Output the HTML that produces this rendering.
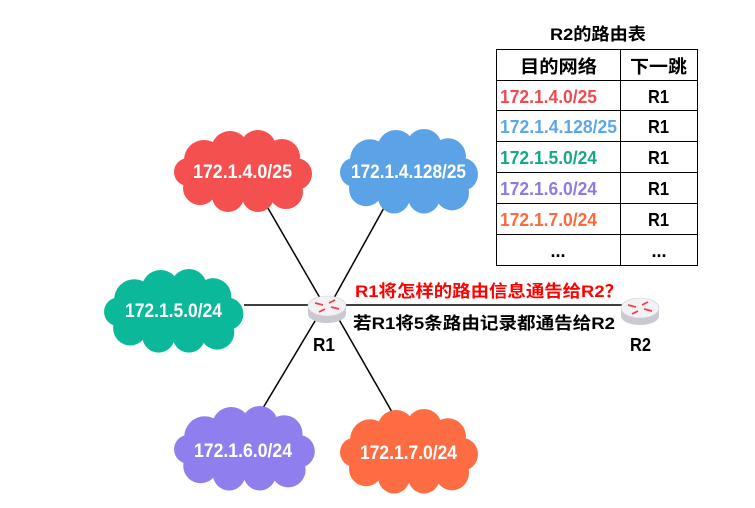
<!DOCTYPE html>
<html><head><meta charset="utf-8"><style>
body{margin:0;background:#fff;width:755px;height:503px;overflow:hidden;font-family:"Liberation Sans","Noto Sans CJK SC",sans-serif}
</style></head><body>
<svg width="755" height="503" viewBox="0 0 755 503" xmlns="http://www.w3.org/2000/svg" font-family="Liberation Sans, Noto Sans CJK SC, sans-serif">
<defs>
<g id="cl">
<circle cx="32" cy="30" r="20"/><circle cx="58" cy="20" r="19"/><circle cx="86" cy="18" r="18"/><circle cx="110" cy="27" r="18"/><circle cx="124" cy="44" r="16"/><circle cx="114" cy="62" r="17"/><circle cx="86" cy="66" r="16"/><circle cx="56" cy="66" r="16"/><circle cx="28" cy="58" r="17"/><circle cx="16" cy="42" r="14"/><ellipse cx="70" cy="42" rx="56" ry="28"/>
</g>
<g id="rt">
<ellipse cx="0" cy="6" rx="19" ry="9" fill="#c9c9cf"/>
<rect x="-19" y="-2" width="38" height="8" fill="#c9c9cf"/>
<ellipse cx="0" cy="-2" rx="19" ry="10" fill="#f2f2f4" stroke="#d0d0d6" stroke-width="0.6"/>
<g stroke="#f04050" stroke-width="1.8"><line x1="-12" y1="-5" x2="-4" y2="-3"/><line x1="12" y1="1" x2="4" y2="-1"/><line x1="-2" y1="1" x2="-8" y2="4"/><line x1="2" y1="-5" x2="8" y2="-8"/></g>
</g>
</defs>
<g stroke="#000" stroke-width="1.5">
<line x1="265" y1="203" x2="320" y2="298"/>
<line x1="385" y1="206" x2="334" y2="298"/>
<line x1="244" y1="305" x2="640" y2="305"/>
<line x1="263" y1="408" x2="318" y2="316"/>
<line x1="392" y1="412" x2="337" y2="316"/>
</g>
<use href="#cl" fill="#f45050" transform="translate(172,130)"/>
<use href="#cl" fill="#5ba3e6" transform="translate(338,129) scale(1.0,1.03)"/>
<use href="#cl" fill="#0bb99a" transform="translate(102,269) scale(1.01,1.02)"/>
<use href="#cl" fill="#8f7fee" transform="translate(172,406) scale(1.02,1.03)"/>
<use href="#cl" fill="#fe6c44" transform="translate(338,409) scale(1.0,1.03)"/>
<g fill="#fff" font-weight="bold" font-size="19" lengthAdjust="spacingAndGlyphs">
<text x="193" y="178" textLength="99" lengthAdjust="spacingAndGlyphs">172.1.4.0/25</text>
<text x="351" y="178" textLength="115" lengthAdjust="spacingAndGlyphs">172.1.4.128/25</text>
<text x="125" y="317" textLength="97" lengthAdjust="spacingAndGlyphs">172.1.5.0/24</text>
<text x="194" y="457" textLength="98" lengthAdjust="spacingAndGlyphs">172.1.6.0/24</text>
<text x="360" y="459" textLength="97" lengthAdjust="spacingAndGlyphs">172.1.7.0/24</text>
</g>
<use href="#rt" transform="translate(327,308)"/>
<use href="#rt" transform="translate(640,310)"/>
<g font-weight="bold" font-size="18">
<text x="313" y="351" textLength="22" lengthAdjust="spacingAndGlyphs">R1</text>
<text x="630" y="351" textLength="21" lengthAdjust="spacingAndGlyphs">R2</text>
<text x="355" y="297" fill="#f00" font-size="17" textLength="268" lengthAdjust="spacingAndGlyphs">R1将怎样的路由信息通告给R2？</text>
<text x="353" y="329" fill="#000" font-size="17" textLength="262" lengthAdjust="spacingAndGlyphs">若R1将5条路由记录都通告给R2</text>
<text x="550" y="40" font-size="17" textLength="96" lengthAdjust="spacingAndGlyphs">R2的路由表</text>
</g>
<g stroke="#000" stroke-width="1" fill="none">
<rect x="496.5" y="49.5" width="201" height="216"/>
<line x1="620.5" y1="49" x2="620.5" y2="266"/>
<line x1="496" y1="80.5" x2="698" y2="80.5"/>
<line x1="496" y1="110.5" x2="698" y2="110.5"/>
<line x1="496" y1="141.5" x2="698" y2="141.5"/>
<line x1="496" y1="172.5" x2="698" y2="172.5"/>
<line x1="496" y1="203.5" x2="698" y2="203.5"/>
<line x1="496" y1="234.5" x2="698" y2="234.5"/>
</g>
<g font-weight="bold" font-size="18">
<text x="520" y="73" textLength="77" lengthAdjust="spacingAndGlyphs">目的网络</text>
<text x="630" y="73" textLength="57" lengthAdjust="spacingAndGlyphs">下一跳</text>
<text x="500" y="103" fill="#f04a50" textLength="97" lengthAdjust="spacingAndGlyphs">172.1.4.0/25</text>
<text x="500" y="133" fill="#5aa7ec" textLength="117" lengthAdjust="spacingAndGlyphs">172.1.4.128/25</text>
<text x="500" y="164" fill="#14a886" textLength="97" lengthAdjust="spacingAndGlyphs">172.1.5.0/24</text>
<text x="500" y="195" fill="#8d7ae8" textLength="97" lengthAdjust="spacingAndGlyphs">172.1.6.0/24</text>
<text x="500" y="226" fill="#fb6a3c" textLength="97" lengthAdjust="spacingAndGlyphs">172.1.7.0/24</text>
<text x="648" y="103" textLength="21" lengthAdjust="spacingAndGlyphs">R1</text>
<text x="648" y="133" textLength="21" lengthAdjust="spacingAndGlyphs">R1</text>
<text x="648" y="164" textLength="21" lengthAdjust="spacingAndGlyphs">R1</text>
<text x="648" y="195" textLength="21" lengthAdjust="spacingAndGlyphs">R1</text>
<text x="648" y="226" textLength="21" lengthAdjust="spacingAndGlyphs">R1</text>
<g text-anchor="middle"><text x="558" y="257">...</text><text x="659" y="257">...</text></g>
</g>
</svg>
</body></html>
